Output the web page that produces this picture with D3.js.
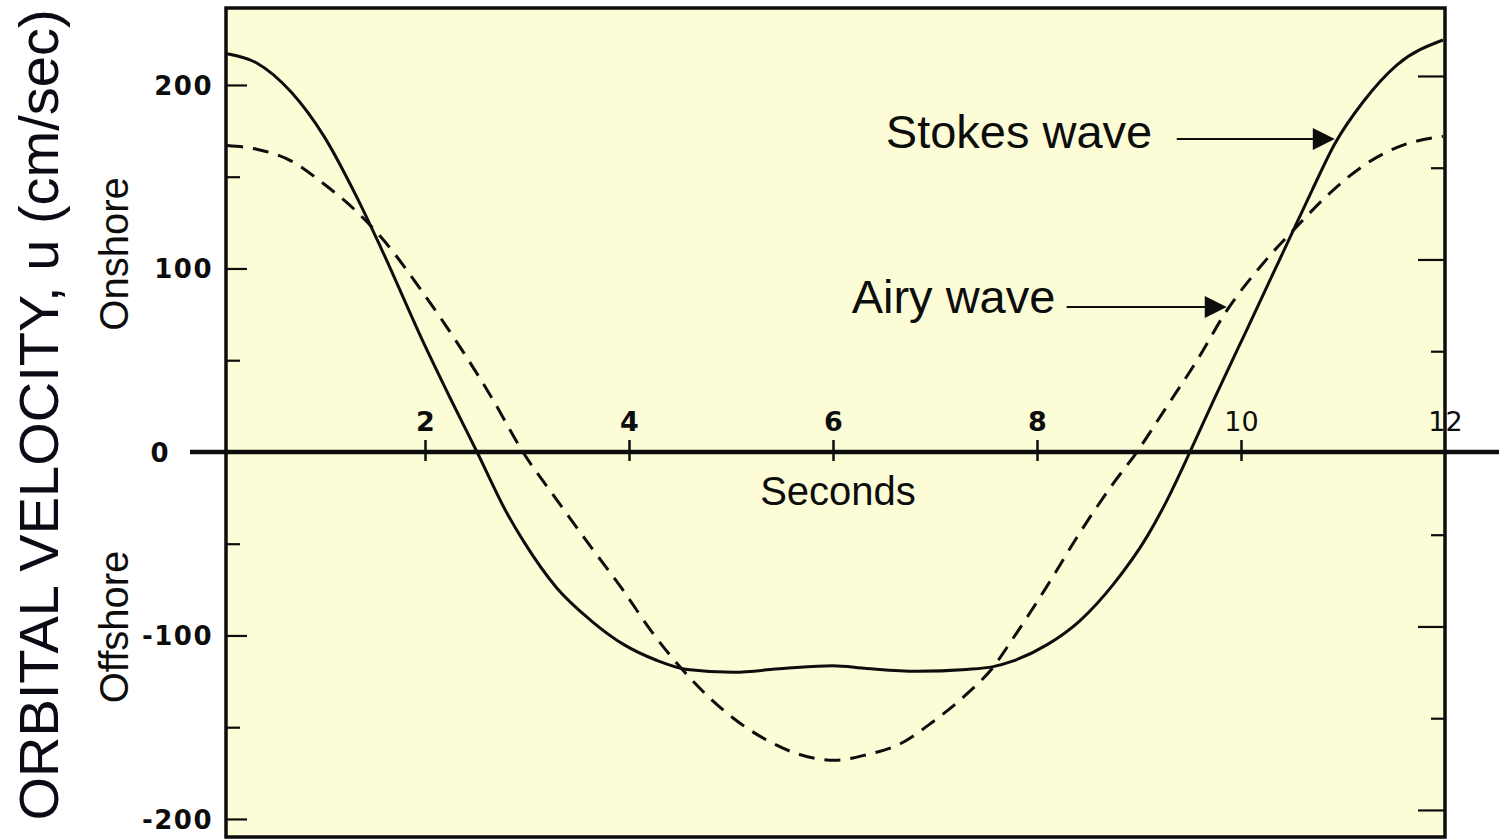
<!DOCTYPE html>
<html>
<head>
<meta charset="utf-8">
<script src="https://cdn.jsdelivr.net/npm/d3@7"></script>
<style>
  html, body { margin: 0; padding: 0; background: #ffffff; }
  svg { display: block; }
</style>
</head>
<body>
<svg id="chart" width="1499" height="839"></svg>
<script>
// Orbital velocity under a wave crest/trough over one 12-second period.
// Time (s) and velocity u (cm/sec) for the Stokes (finite amplitude) wave.
const stokesT = [0.06, 0.35, 0.69, 1.01, 1.33, 1.57, 1.99, 2.25, 2.51, 2.80, 2.97, 3.29, 3.63, 3.95, 4.27, 4.57,
                 5.02, 5.51, 6.00, 6.33, 6.82, 7.31, 7.57, 7.76, 8.10, 8.42, 8.75, 9.08, 9.25, 9.50, 9.73, 10.06,
                 10.38, 10.54, 10.70, 10.92, 11.20, 11.53, 11.98];
const stokesU = [217, 212, 196, 172, 139, 111, 59, 29, 0, -33, -49, -74, -92, -105, -113.5, -118.5,
                 -120, -118, -116.5, -118, -119.5, -118.5, -117, -114, -105, -92, -72, -46, -29, 0, 28, 67,
                 105, 124, 143, 168, 191, 211, 224.5];

// Time (s) and velocity u (cm/sec) for the Airy (linear) wave.
const airyT = [0.06, 0.35, 0.69, 1.01, 1.33, 1.57, 1.99, 2.31, 2.65, 2.96, 3.29, 3.63, 3.95, 4.21, 4.53, 4.79,
               5.02, 5.35, 5.68, 6.02, 6.33, 6.66, 6.98, 7.31, 7.56, 7.76, 8.10, 8.42, 8.75, 8.98, 9.24, 9.57,
               9.86, 10.22, 10.55, 10.87, 11.20, 11.53, 11.98];
const airyU = [167, 165, 158.5, 146, 131, 117, 86, 60, 30, 0, -26, -52, -76, -97, -119, -134,
               -145, -157, -165, -168, -165, -159, -147, -132, -118, -102, -73, -44, -17, 0, 22, 50,
               77, 103, 123, 141, 156, 166, 172];

// Axis ticks and labels.
const xTickValues = [2, 4, 6, 8, 10, 12];
const yMajorTicks = [-200, -100, 100, 200];
const yLabelTicks = [-200, -100, 0, 100, 200];
const yMinorTicks = [-150, -50, 50, 150];

// Curve call-outs: label, where the text ends (t, u), and the arrow from tStart to tip (t, u).
const calloutLabels = ["Stokes wave", "Airy wave"];
const calloutTextT = [9.13, 8.18];
const calloutTextU = [165.5, 75.5];
const calloutArrowStartT = [9.37, 8.29];
const calloutArrowTipT = [10.92, 9.86];
const calloutArrowU = [170.5, 79];

const svg = d3.select("#chart");
const frame = { left: 226, top: 8, right: 1445, bottom: 837 };

const x = d3.scaleLinear().domain([0, 12]).range([221, 1445]);
const y = d3.scaleLinear().domain([-210, 242]).range([837.3, 7.9]);

const ink = "#0d0d0d";
const sans = "'Liberation Sans', Arial, sans-serif";
const tickFont = "'DejaVu Sans', sans-serif";

// Plot panel
svg.append("rect")
  .attr("x", frame.left).attr("y", frame.top)
  .attr("width", frame.right - frame.left).attr("height", frame.bottom - frame.top)
  .attr("fill", "#fcfcd6");

// Left axis: minor ticks, then major ticks, then labels
const leftMinor = svg.append("g").attr("transform", `translate(${frame.left},0)`)
  .call(d3.axisLeft(y).tickValues(yMinorTicks).tickSize(-14).tickFormat(""));
const leftMajor = svg.append("g").attr("transform", `translate(${frame.left},0)`)
  .call(d3.axisLeft(y).tickValues(yMajorTicks).tickSize(-21).tickFormat(""));
const leftLabels = svg.append("g").attr("transform", `translate(${frame.left},0)`)
  .call(d3.axisLeft(y).tickValues(yLabelTicks).tickSize(0).tickPadding(13)
    .tickFormat(d => d < 0 ? "-" + Math.abs(d) : String(d)));
[leftMinor, leftMajor, leftLabels].forEach(g => {
  g.select(".domain").remove();
  g.selectAll("line").attr("stroke", ink).attr("stroke-width", 2.2);
});
leftLabels.selectAll("text")
  .attr("fill", ink).attr("font-family", tickFont)
  .attr("font-size", 26).attr("font-weight", "bold").attr("letter-spacing", 1.5)
  .attr("dy", "0.36em")
  // the zero label sits clear of the extended zero line
  .attr("x", d => d === 0 ? -56 : -13);

// Right axis ticks (inward), no labels
const rightMinor = svg.append("g").attr("transform", `translate(${frame.right},-9)`)
  .call(d3.axisRight(y).tickValues(yMinorTicks).tickSize(-14).tickFormat(""));
const rightMajor = svg.append("g").attr("transform", `translate(${frame.right},-9)`)
  .call(d3.axisRight(y).tickValues(yMajorTicks).tickSize(-27).tickFormat(""));
[rightMinor, rightMajor].forEach(g => {
  g.select(".domain").remove();
  g.selectAll("line").attr("stroke", ink).attr("stroke-width", 2.2);
});

// Frame
svg.append("rect")
  .attr("x", frame.left).attr("y", frame.top)
  .attr("width", frame.right - frame.left).attr("height", frame.bottom - frame.top)
  .attr("fill", "none").attr("stroke", ink).attr("stroke-width", 3.5);

// Zero line (time axis) extending beyond the panel
svg.append("line")
  .attr("x1", 190).attr("x2", 1499)
  .attr("y1", y(0)).attr("y2", y(0))
  .attr("stroke", ink).attr("stroke-width", 4.5);

// Time ticks crossing the zero line, labels above
const xAxis = svg.append("g").attr("transform", `translate(0,${y(0)})`)
  .call(d3.axisTop(x).tickValues(xTickValues).tickSize(12).tickPadding(9).tickFormat(d3.format("d")));
xAxis.select(".domain").remove();
xAxis.selectAll(".tick line")
  .attr("y1", 9).attr("y2", -12)
  .attr("stroke", ink).attr("stroke-width", 2.5)
  .attr("display", d => d === 12 ? "none" : null);
xAxis.selectAll(".tick text")
  .attr("fill", ink).attr("font-family", tickFont)
  .attr("font-size", 27)
  .attr("font-weight", d => d < 10 ? "bold" : "normal");

svg.append("text")
  .attr("x", 838).attr("y", 505)
  .attr("text-anchor", "middle")
  .attr("font-family", sans).attr("font-size", 40).attr("fill", ink)
  .text("Seconds");

// Curves
const line = d3.line().x(d => x(d[0])).y(d => y(d[1])).curve(d3.curveMonotoneX);
svg.append("path")
  .datum(d3.zip(airyT, airyU))
  .attr("d", line)
  .attr("fill", "none").attr("stroke", ink).attr("stroke-width", 3)
  .attr("stroke-dasharray", "16,10");
svg.append("path")
  .datum(d3.zip(stokesT, stokesU))
  .attr("d", line)
  .attr("fill", "none").attr("stroke", ink).attr("stroke-width", 3);

// Call-outs with arrows
calloutLabels.forEach((label, i) => {
  svg.append("text")
    .attr("x", x(calloutTextT[i])).attr("y", y(calloutTextU[i]))
    .attr("text-anchor", "end")
    .attr("font-family", sans).attr("font-size", 47).attr("fill", ink)
    .text(label);
  const ay = y(calloutArrowU[i]);
  const tip = x(calloutArrowTipT[i]);
  const headLen = 22, headHalf = 11;
  svg.append("line")
    .attr("x1", x(calloutArrowStartT[i])).attr("x2", tip - headLen + 2)
    .attr("y1", ay).attr("y2", ay)
    .attr("stroke", ink).attr("stroke-width", 2);
  svg.append("path")
    .attr("d", `M${tip},${ay} L${tip - headLen},${ay - headHalf} L${tip - headLen},${ay + headHalf} Z`)
    .attr("fill", ink);
});

// Vertical axis titles
svg.append("text")
  .attr("transform", "translate(58,415) rotate(-90)")
  .attr("text-anchor", "middle")
  .attr("font-family", sans).attr("font-size", 56).attr("fill", "#0b0b16")
  .text("ORBITAL VELOCITY, u (cm/sec)");
svg.append("text")
  .attr("transform", "translate(128,254) rotate(-90)")
  .attr("text-anchor", "middle")
  .attr("font-family", sans).attr("font-size", 40).attr("fill", ink)
  .text("Onshore");
svg.append("text")
  .attr("transform", "translate(128,627) rotate(-90)")
  .attr("text-anchor", "middle")
  .attr("font-family", sans).attr("font-size", 40).attr("fill", ink)
  .text("Offshore");
</script>
</body>
</html>
